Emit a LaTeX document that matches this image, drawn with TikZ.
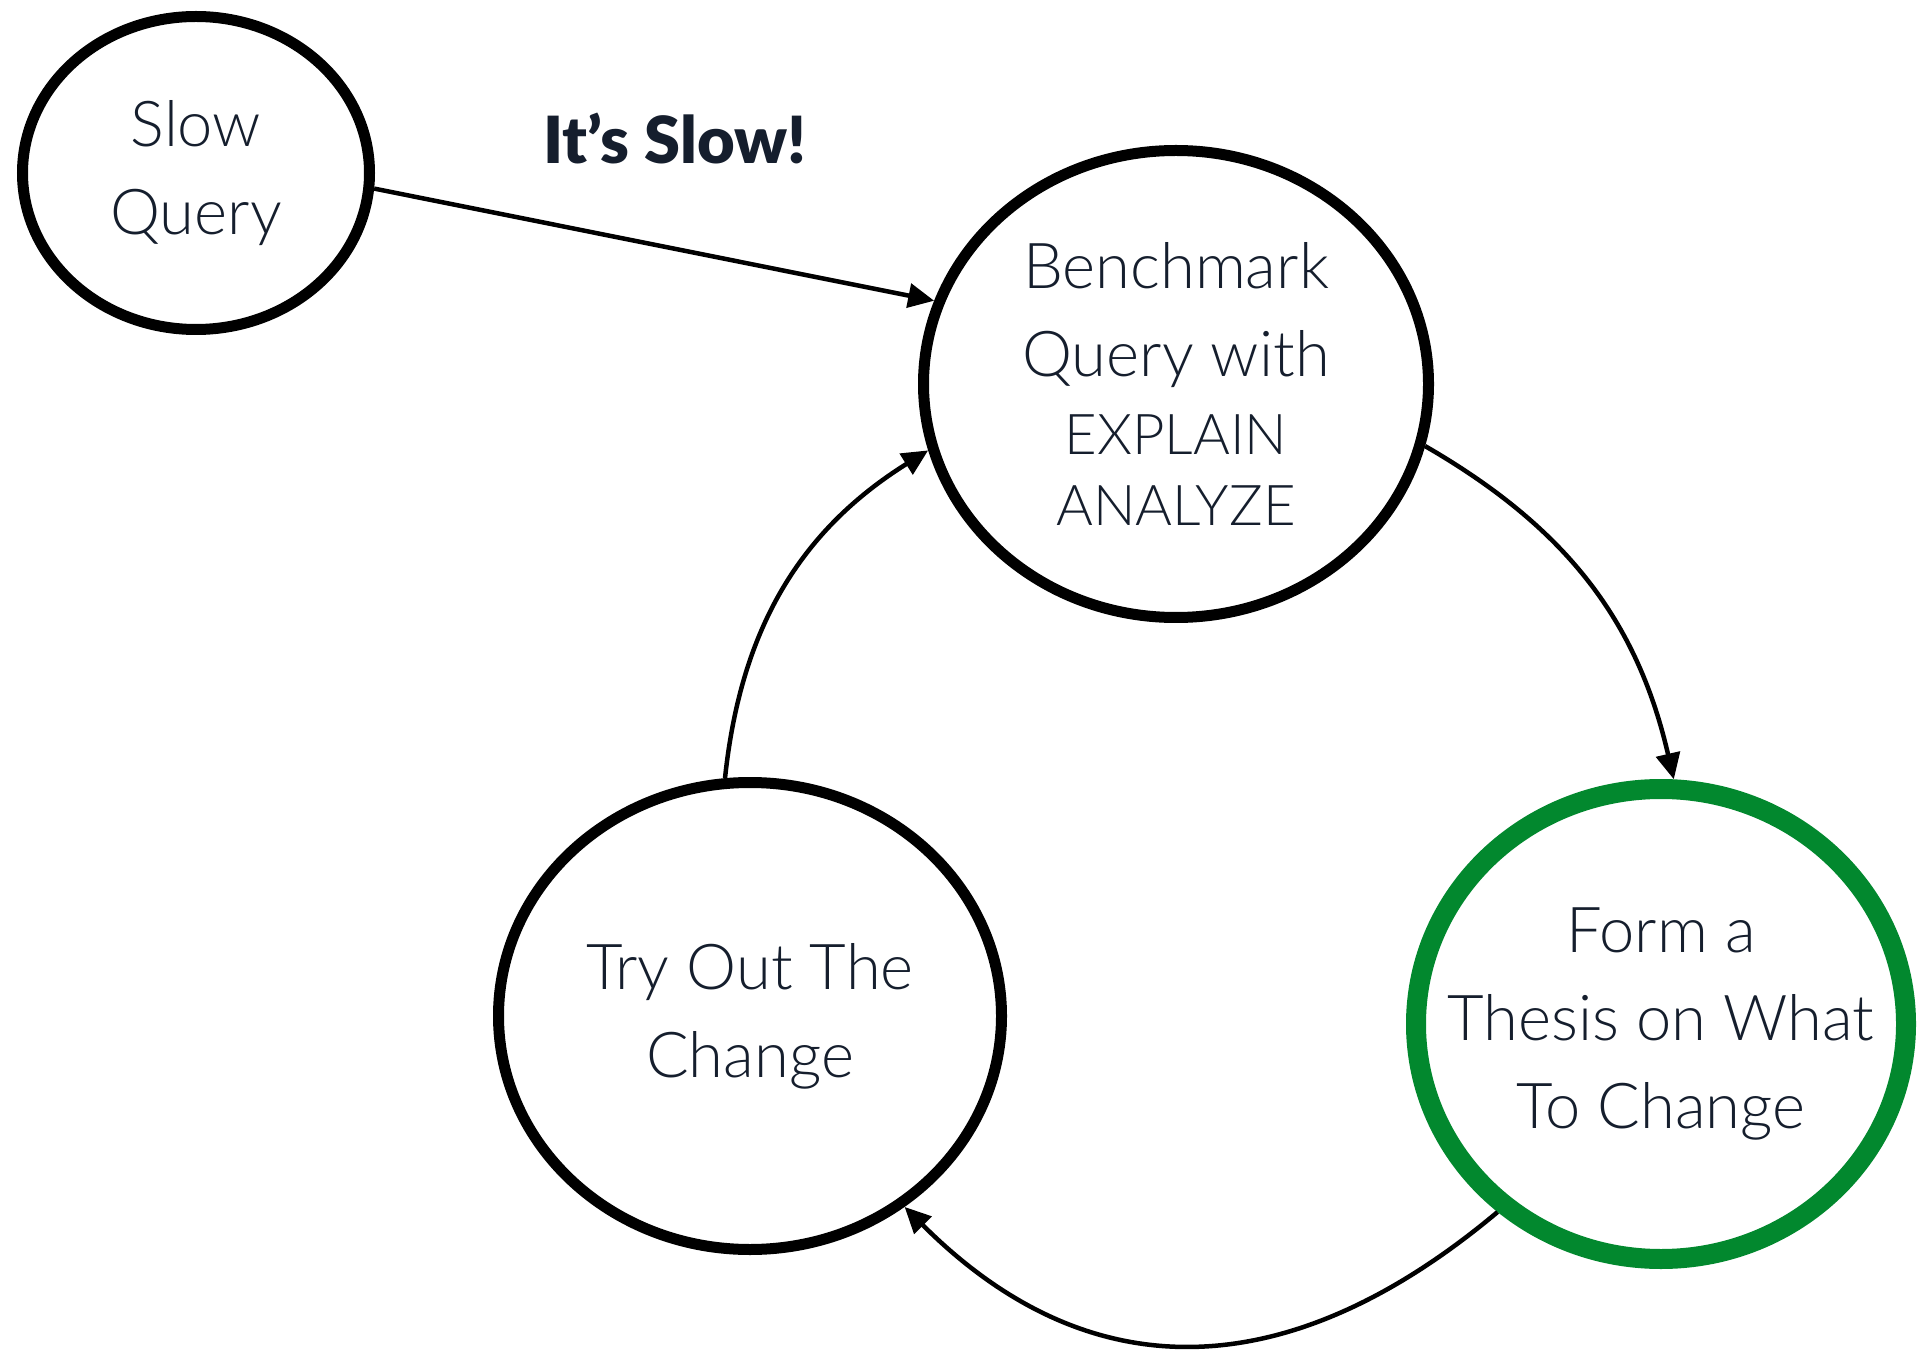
\documentclass[tikz,border=0pt]{standalone}
\usepackage{fontspec}
\setmainfont{Lato}[UprightFont=* Light, BoldFont=* Black]
\usepackage{tikz}
\usetikzlibrary{positioning,arrows.meta,shapes.geometric}
\definecolor{ink}{RGB}{21,30,45}
\definecolor{okgreen}{RGB}{2,136,46}

\begin{document}
\begin{tikzpicture}[
    font=\fontsize{18}{25}\selectfont,
    stage/.style={draw, ellipse, line width=1.1mm, inner sep=-5mm, align=center, text=ink},
    goal/.style={stage, draw=okgreen, line width=2mm},
    arr/.style={-{Triangle[length=2.6mm,width=2.4mm]}, line width=0.45mm},
    ttl/.style={font=\fontsize{18.5}{20}\selectfont\bfseries, text=ink}
  ]
  \useasboundingbox (0,0) rectangle (192.2mm,135mm);

  % the query loop
  \node[stage, minimum width=34.7mm, minimum height=31.3mm] (slow)   at ( 19.6mm, 117.7mm) {Slow\\Query};
  \node[stage, minimum width=50.5mm, minimum height=46.7mm] (bench)  at (117.6mm,  96.6mm)
    {Benchmark\\Query with\\[-1mm]{\fontsize{16}{20}\selectfont EXPLAIN}\\[-1.7mm]{\fontsize{16}{20}\selectfont ANALYZE}};
  \node[goal,  minimum width=49mm,   minimum height=47mm]   (thesis) at (166.1mm,  32.6mm) {Form a\\Thesis on What\\To Change};
  \node[stage, minimum width=50.3mm, minimum height=46.7mm] (tryout) at ( 75.0mm,  33.4mm) {Try Out The\\Change};

  \node[ttl] (slowlbl) at (67.5mm, 121.1mm) {It's Slow!};

  \draw[arr] (slow.-5)     -- (bench.161);
  \draw[arr] (bench.-14)   to[out=-30, in=103] (thesis.87);
  \draw[arr] (thesis.229)  to[out=220, in=-45, looseness=1.15] (tryout.-51);
  \draw[arr] (tryout.96)   to[out=84,  in=212] (bench.195);
\end{tikzpicture}
\end{document}
